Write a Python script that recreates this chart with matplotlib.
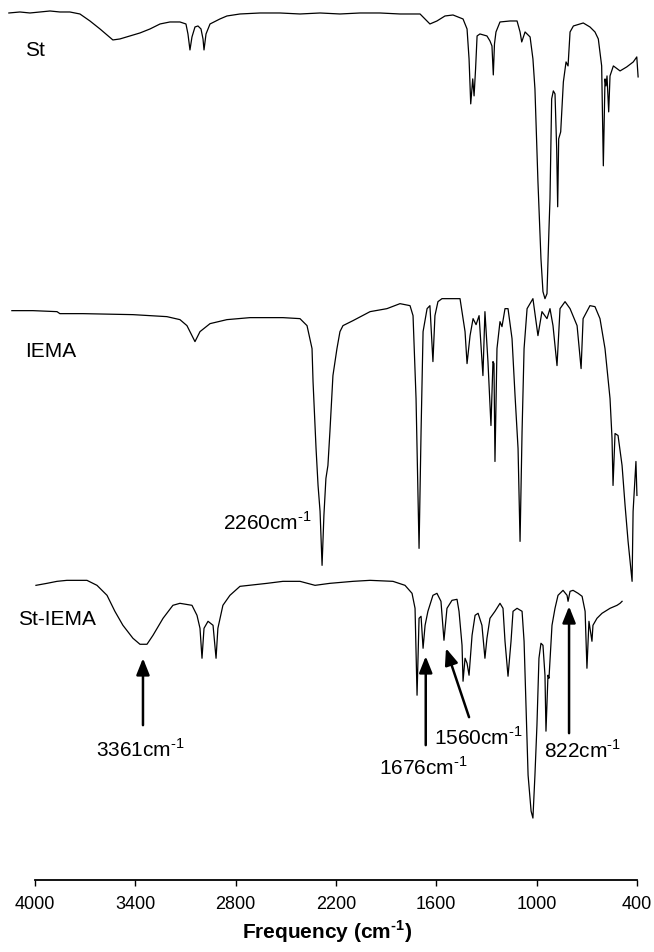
import matplotlib
matplotlib.use("Agg")
import matplotlib.pyplot as plt

plt.rcParams['font.family'] = ['Liberation Sans', 'DejaVu Sans']
plt.rcParams['mathtext.fontset'] = 'custom'
plt.rcParams['mathtext.rm'] = 'Liberation Sans'
plt.rcParams['mathtext.bf'] = 'Liberation Sans:bold'

# ---- spectra (wavenumber, stacked signal in a.u.) ----
st_wn = [4156, 4090, 4030, 3970, 3910, 3851, 3791, 3731, 3671, 3611, 3569, 3534, 3492,
         3432, 3372, 3312, 3252, 3193, 3133, 3097, 3085, 3073, 3061, 3043, 3025, 3007,
         2995, 2989, 2977, 2953, 2894, 2852, 2774, 2654, 2535, 2415, 2295, 2176, 2056,
         1937, 1817, 1697, 1638, 1596, 1548, 1500, 1440, 1416, 1404, 1394, 1382, 1374,
         1365, 1356, 1339, 1297, 1279, 1267, 1259, 1252, 1243, 1219, 1159, 1117, 1099,
         1089, 1069, 1039, 1022, 1010, 992, 974, 962, 950, 938, 926, 920, 910, 900, 890,
         880, 874, 868, 856, 840, 824, 812, 800, 780, 721, 681, 651, 631, 611, 601, 591,
         585, 579, 569, 561, 541, 501, 461, 422, 401, 393]
st_val = [868, 869, 868, 869, 870, 869, 869, 867, 860, 852, 846, 841, 842,
          845, 848, 852, 857, 859, 859, 857, 847, 831, 844, 854, 855, 852,
          842, 831, 847, 857, 862, 865, 867, 868, 868, 867, 868, 867, 868,
          868, 867, 867, 857, 860, 865, 866, 862, 852, 822, 777, 802, 785,
          812, 845, 847, 845, 840, 835, 806, 837, 849, 859, 860, 860, 849,
          839, 849, 844, 822, 792, 699, 622, 589, 582, 587, 652, 682, 782, 790, 787,
          732, 674, 742, 749, 799, 819, 815, 849, 855, 858, 854, 849, 842, 815, 715, 802,
          795, 805, 769, 805, 815, 810, 814, 819, 824, 804]

iema_wn = [4138, 4012, 3868, 3851, 3713, 3414, 3211, 3133, 3091, 3043, 3013, 2953, 2852,
           2714, 2517, 2415, 2373, 2343, 2337, 2319, 2307, 2295, 2283, 2272, 2260, 2248,
           2236, 2218, 2194, 2176, 2158, 2098, 1996, 1895, 1817, 1757, 1739, 1721, 1703,
           1691, 1679, 1655, 1638, 1620, 1608, 1590, 1566, 1458, 1428, 1416, 1398, 1380,
           1362, 1344, 1321, 1309, 1291, 1273, 1261, 1255, 1249, 1237, 1219, 1207, 1189,
           1171, 1147, 1129, 1111, 1099, 1087, 1075, 1057, 1022, 992, 968, 938, 920, 902,
           878, 860, 830, 800, 758, 734, 722, 681, 651, 621, 591, 561, 549, 543, 531, 513,
           489, 471, 453, 429, 423, 406, 400]
iema_val = [570, 570, 569, 567, 567, 566, 564, 561, 555, 539, 549, 557, 561,
            563, 563, 562, 555, 532, 499, 432, 395, 369, 315, 365, 402, 415,
            449, 505, 532, 549, 555, 560, 569, 572, 577, 575, 565, 482, 332,
            449, 549, 572, 575, 519, 565, 579, 582, 582, 549, 517, 545, 562,
            556, 565, 505, 569, 519, 455, 519, 517, 419, 532, 559, 554, 572,
            572, 542, 485, 432, 339, 449, 532, 572, 582, 545, 569, 562, 572, 555,
            515, 572, 579, 572, 555, 512, 562, 575, 574, 562, 532, 482, 442, 395, 447, 445,
            415, 375, 339, 299, 369, 419, 385]

stiema_wn = [3994, 3928, 3868, 3809, 3689, 3629, 3569, 3522, 3474, 3414, 3372, 3330, 3294,
             3234, 3175, 3133, 3061, 3031, 3013, 3001, 2989, 2965, 2935, 2917, 2906, 2876,
             2834, 2774, 2612, 2517, 2415, 2325, 2236, 2098, 1996, 1859, 1787, 1745, 1727,
             1715, 1703, 1691, 1679, 1667, 1650, 1620, 1596, 1572, 1554, 1536, 1506, 1476,
             1464, 1446, 1440, 1428, 1416, 1404, 1386, 1368, 1350, 1327, 1309, 1297, 1279,
             1249, 1219, 1201, 1189, 1171, 1153, 1141, 1117, 1087, 1075, 1063, 1051, 1033,
             1022, 1010, 998, 986, 974, 962, 950, 944, 932, 926, 908, 890, 872, 842, 818,
             812, 800, 782, 752, 728, 710, 699, 687, 669, 663, 639, 609, 561, 519, 501, 489]
stiema_val = [295, 297, 299, 300, 300, 295, 285, 269, 255, 242, 236, 236, 245,
              262, 275, 277, 275, 265, 252, 222, 252, 259, 255, 222, 252, 275,
              285, 294, 297, 299, 299, 295, 297, 299, 300, 299, 295, 287, 272,
              185, 262, 264, 232, 255, 269, 285, 287, 279, 240, 272, 280, 281,
              269, 235, 199, 222, 217, 205, 245, 265, 267, 255, 222, 242, 262,
              269, 277, 272, 239, 204, 239, 269, 272, 269, 239, 172, 105, 69,
              62, 105, 155, 222, 237, 235, 205, 149, 205, 202, 255, 272, 285, 290, 285,
              279, 289, 290, 287, 284, 269, 212, 259, 239, 255, 262, 267, 272, 275, 277, 279]

HYPH = '\u2010'   # plain hyphen in the superscript, like the original figure

fig = plt.figure(figsize=(6.54, 9.53), dpi=100)
ax = fig.add_axes([0, 72 / 953, 1, 881 / 953])

for wn, val in [(st_wn, st_val), (iema_wn, iema_val), (stiema_wn, stiema_val)]:
    ax.plot(wn, val, color='black', lw=0.9)

ax.set_xlim(4209, 298)
ax.set_ylim(0, 882)

for s in ['top', 'left', 'right']:
    ax.spines[s].set_visible(False)
ax.spines['bottom'].set_bounds(4000, 400)
ax.spines['bottom'].set_linewidth(1.3)
ax.set_yticks([])
ax.set_xticks([4000, 3400, 2800, 2200, 1600, 1000, 400])
ax.tick_params(axis='x', direction='out', length=4.5, width=1.0, labelsize=13, pad=6)
ax.set_xlabel('Frequency (cm$^{\\mathbf{' + HYPH + '1}}$)', fontsize=15,
              fontweight='bold', labelpad=4)

# spectrum names
ax.text(4060, 831, 'St', fontsize=15, va='center', ha='left')
ax.text(4060, 530, 'IEMA', fontsize=15, va='center', ha='left')
ax.text(4102, 262, 'St-IEMA', fontsize=15, va='center', ha='left')


def cm(num):
    return num + 'cm$^{' + HYPH + '1}$'


# peak annotations
ax.text(2343, 359, cm('2260'), fontsize=15, va='center', ha='right')

arrow = dict(arrowstyle='-|>,head_length=0.55,head_width=0.22', color='black',
             lw=1.8, mutation_scale=18, shrinkA=0, shrinkB=0)
ax.annotate('', xy=(3354, 222), xytext=(3354, 155), arrowprops=arrow)
ax.text(3372, 132, cm('3361'), fontsize=15, va='center', ha='center')

ax.annotate('', xy=(1663, 224), xytext=(1663, 135), arrowprops=arrow)
ax.text(1679, 114, cm('1676'), fontsize=15, va='center', ha='center')

ax.annotate('', xy=(1542, 232), xytext=(1404, 163), arrowprops=arrow)
ax.text(1350, 144, cm('1560'), fontsize=15, va='center', ha='center')

ax.annotate('', xy=(806, 274), xytext=(806, 147), arrowprops=arrow)
ax.text(728, 131, cm('822'), fontsize=15, va='center', ha='center')

fig.savefig('out.png', dpi=100, facecolor='white')
